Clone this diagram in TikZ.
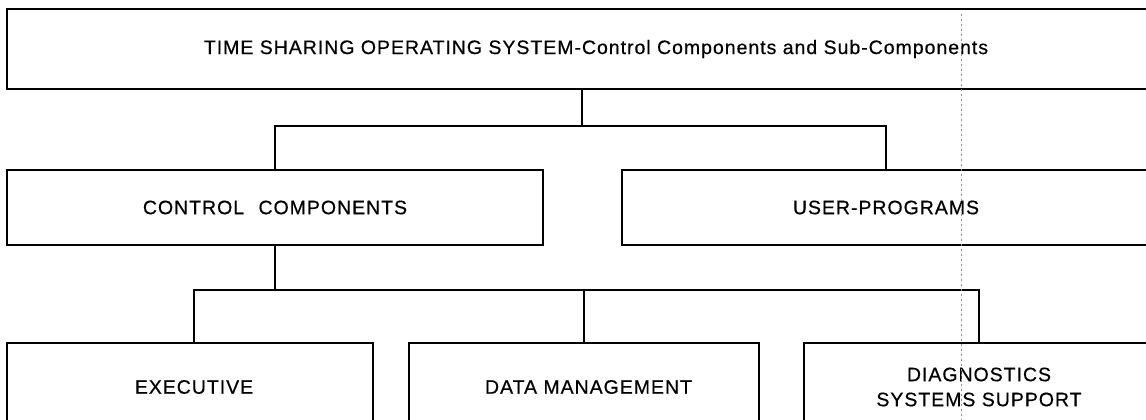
\documentclass[tikz,border=0pt]{standalone}
\usepackage{fontspec}
\setmainfont{Liberation Sans}[LetterSpace=5, FakeBold=0.5]
\begin{document}
\begin{tikzpicture}[x=1pt,y=-1pt,
  box/.style={draw=black, line width=2.1pt, rectangle, inner sep=0pt,
    align=center, font=\fontsize{19.5}{25}\selectfont, text=black},
  link/.style={draw=black, line width=2.1pt},
  crease/.style={draw=black!45, line width=0.6pt, dash pattern=on 2pt off 3pt}]
\useasboundingbox (0,0) rectangle (1146,420);
\clip (0,0) rectangle (1146,420);
\fill[white] (0,0) rectangle (1146,420);

% top level
\node[box, minimum width=1150pt, minimum height=80pt] (tsos) at (582,49)
  {\hspace{28pt}TIME SHARING OPERATING SYSTEM-Control Components and Sub-Components};

% second level
\node[box, minimum width=536pt, minimum height=75pt] (ctrl) at (275,207.5)
  {CONTROL\hspace{8pt} COMPONENTS};
\node[box, minimum width=528pt, minimum height=75pt] (user) at (886,207.5)
  {USER-PROGRAMS};

% third level
\node[box, minimum width=366pt, minimum height=88pt] (exec) at (190,387)
  {\hspace{8pt}EXECUTIVE};
\node[box, minimum width=350pt, minimum height=88pt] (dmgt) at (584,387)
  {\hspace{9pt}DATA MANAGEMENT};
\node[box, minimum width=350pt, minimum height=88pt] (diag) at (979,387)
  {DIAGNOSTICS\\SYSTEMS SUPPORT};

% bus lines
\coordinate (busA) at (0,126);
\coordinate (busB) at (0,290);
\coordinate (execTop) at ([xshift=4pt]exec.north);

\draw[link] (tsos.south) -- (tsos.south |- busA);
\draw[link] (ctrl.north) -- (ctrl.north |- busA) -- (user.north |- busA) -- (user.north);

\draw[link] (ctrl.south) -- (ctrl.south |- busB);
\draw[link] (execTop) -- (execTop |- busB) -- (diag.north |- busB) -- (diag.north);
\draw[link] (dmgt.north) -- (dmgt.north |- busB);

% fold mark across the sheet
\coordinate (foldTop) at (961,14);
\coordinate (foldBot) at (961,420);
\draw[crease] (foldTop) -- (foldBot);
\end{tikzpicture}
\end{document}
